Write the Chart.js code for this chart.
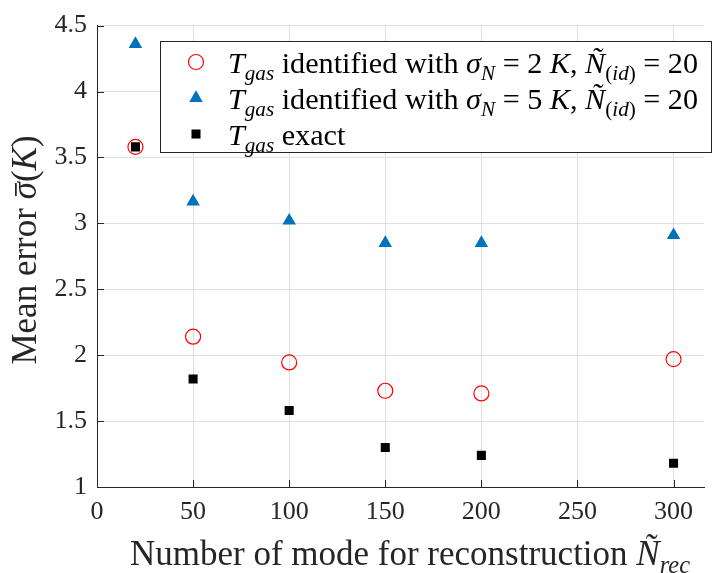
<!DOCTYPE html>
<html>
<head>
<meta charset="utf-8">
<script src="https://cdn.jsdelivr.net/npm/chart.js@4.4.1/dist/chart.umd.min.js"></script>
<style>
  body { margin: 0; background: #fff; }
  canvas { display: block; }
</style>
</head>
<body>
<canvas id="myChart" width="713" height="573"></canvas>
<script>
// values
const modes = [20, 50, 100, 150, 200, 300]
const errSigma2 = [3.58, 2.14, 1.945, 1.73, 1.71, 1.97]
const errSigma5 = [4.36, 3.165, 3.02, 2.85, 2.85, 2.91]
const errExact = [3.58, 1.82, 1.58, 1.30, 1.24, 1.18]
const xTicks = [0, 50, 100, 150, 200, 250, 300]
const yTicks = [1, 1.5, 2, 2.5, 3, 3.5, 4, 4.5]

// label pieces: r = roman, i = italic, s* = subscript, b = bar on top
const legendRows = [
  [['T', 'i'], ['gas', 'si'], [' identified with ', 'r'], ['σ', 'i'], ['N', 'si'], [' = 2 ', 'r'], ['K', 'i'], [', ', 'r'], ['Ñ', 'i'], ['(', 'sr'], ['id', 'si'], [')', 'sr'], [' = 20', 'r']],
  [['T', 'i'], ['gas', 'si'], [' identified with ', 'r'], ['σ', 'i'], ['N', 'si'], [' = 5 ', 'r'], ['K', 'i'], [', ', 'r'], ['Ñ', 'i'], ['(', 'sr'], ['id', 'si'], [')', 'sr'], [' = 20', 'r']],
  [['T', 'i'], ['gas', 'si'], [' exact', 'r']]
]
const yTitle = [['Mean error ', 'r'], ['σ', 'ib'], ['(', 'r'], ['K', 'i'], [')', 'r']]
const xTitle = [['Number of mode for reconstruction ', 'r'], ['Ñ', 'i'], ['rec', 'si']]

const serif = '"Liberation Serif", "DejaVu Serif", serif'
const axisColor = '#262626'
Chart.defaults.font.family = serif

const toPoints = (ys) => modes.map((m, i) => ({ x: m, y: ys[i] }))

const setFont = (ctx, kind, size) => {
  const sub = kind[0] === 's'
  const fs = sub ? size * 0.7 : size
  ctx.font = (kind.includes('i') ? 'italic ' : '') + fs + 'px ' + serif
  return sub
}
const richWidth = (ctx, segs, size) => {
  let w = 0
  segs.forEach(([t, k]) => { setFont(ctx, k, size); w += ctx.measureText(t).width })
  return w
}
const drawRich = (ctx, segs, x, y, size, align) => {
  let cx = align === 'center' ? x - richWidth(ctx, segs, size) / 2 : x
  ctx.textAlign = 'left'
  ctx.textBaseline = 'alphabetic'
  segs.forEach(([t, k]) => {
    const sub = setFont(ctx, k, size)
    const w = ctx.measureText(t).width
    ctx.fillText(t, cx, sub ? y + size * 0.24 : y)
    if (k.includes('b')) {
      ctx.fillRect(cx + w * 0.2, y - size * 0.6, w * 0.75, size * 0.05)
    }
    cx += w
  })
}

const datasets = [
  { label: 'sigma2', data: toPoints(errSigma2), pointStyle: 'circle', pointRadius: 7.5, pointHoverRadius: 7.5,
    borderColor: '#ff0000', backgroundColor: 'rgba(0,0,0,0)', borderWidth: 1.2 },
  { label: 'sigma5', data: toPoints(errSigma5), pointStyle: 'triangle', pointRadius: 7.8, pointHoverRadius: 7.8,
    borderColor: '#0072bd', backgroundColor: '#0072bd', borderWidth: 0 },
  { label: 'exact', data: toPoints(errExact), pointStyle: 'rect', pointRadius: 6.4, pointHoverRadius: 6.4,
    borderColor: '#000000', backgroundColor: '#000000', borderWidth: 0 }
]

const decorations = {
  id: 'decorations',
  afterDraw(chart) {
    const ctx = chart.ctx
    const { x, y } = chart.scales
    const area = chart.chartArea
    ctx.save()
    // inward tick marks
    ctx.strokeStyle = axisColor
    ctx.lineWidth = 1
    ctx.beginPath()
    xTicks.forEach(v => {
      const px = Math.round(x.getPixelForValue(v)) + 0.5
      ctx.moveTo(px, area.bottom); ctx.lineTo(px, area.bottom - 7)
    })
    yTicks.forEach(v => {
      const py = Math.round(y.getPixelForValue(v)) + 0.5
      ctx.moveTo(area.left, py); ctx.lineTo(area.left + 7, py)
    })
    ctx.stroke()

    // axis titles
    ctx.fillStyle = axisColor
    drawRich(ctx, xTitle, 410, 565, 35, 'center')
    ctx.save()
    ctx.translate(36, 250)
    ctx.rotate(-Math.PI / 2)
    drawRich(ctx, yTitle, 0, 0, 35, 'center')
    ctx.restore()

    // legend
    ctx.fillStyle = '#ffffff'
    ctx.fillRect(160.5, 41.5, 551, 111)
    ctx.strokeStyle = axisColor
    ctx.strokeRect(160.5, 41.5, 551, 111)
    const rowY = [62, 98, 134]
    datasets.forEach((ds, i) => {
      ctx.strokeStyle = ds.borderColor
      ctx.fillStyle = ds.backgroundColor
      ctx.lineWidth = ds.borderWidth
      Chart.helpers.drawPoint(ctx, { pointStyle: ds.pointStyle, radius: ds.pointRadius, rotation: 0, borderWidth: ds.borderWidth }, 196, rowY[i])
      ctx.fillStyle = '#000000'
      drawRich(ctx, legendRows[i], 228, rowY[i] + 10.5, 30.2, 'left')
    })
    ctx.restore()
  }
}

const config = {
  type: 'scatter',
  data: { datasets: datasets },
  options: {
    responsive: false,
    devicePixelRatio: 1,
    animation: false,
    layout: { padding: { top: 17, right: 1, left: 0, bottom: 0 } },
    plugins: { legend: { display: false }, tooltip: { enabled: false } },
    scales: {
      x: {
        type: 'linear',
        min: 0,
        max: 316,
        afterBuildTicks: (scale) => { scale.ticks = xTicks.map(v => ({ value: v })) },
        afterFit: (scale) => { scale.height = 86 },
        grid: { color: '#dfdfdf', drawTicks: false },
        border: { display: true, color: axisColor, width: 1 },
        ticks: { color: axisColor, padding: 10, maxRotation: 0, callback: (v) => String(v), font: { family: serif, size: 26 } }
      },
      y: {
        type: 'linear',
        min: 1,
        max: 4.5,
        afterBuildTicks: (scale) => { scale.ticks = yTicks.map(v => ({ value: v })) },
        afterFit: (scale) => { scale.width = 97 },
        grid: { color: '#dfdfdf', drawTicks: false },
        border: { display: true, color: axisColor, width: 1 },
        ticks: { color: axisColor, padding: 10, callback: (v) => String(v), font: { family: serif, size: 26 } }
      }
    }
  },
  plugins: [decorations]
}

new Chart(document.getElementById('myChart'), config)
</script>
</body>
</html>
